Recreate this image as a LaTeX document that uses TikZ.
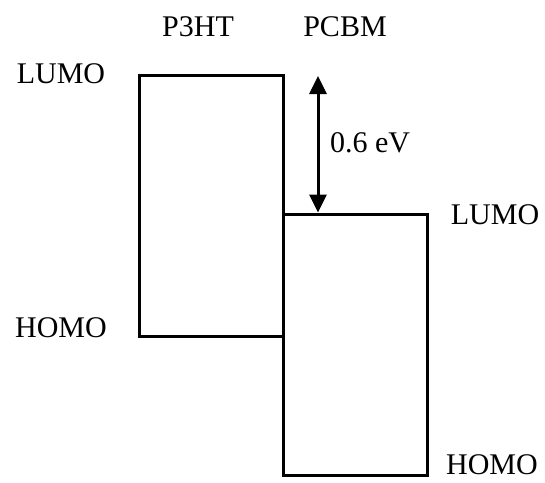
\documentclass[tikz,border=0pt]{standalone}
\usepackage{fontspec}
\setmainfont{Liberation Serif}
\usetikzlibrary{arrows.meta, positioning}

\begin{document}
\begin{tikzpicture}[
    x=1pt, y=-1pt,
    >={Triangle[width=17pt, length=18pt]},
    every node/.style={font=\fontsize{30}{36}\selectfont, inner sep=0pt},
    band/.style={draw, line width=3pt, rectangle, inner sep=0pt, outer sep=0pt,
                 minimum width=144pt, minimum height=261pt},
    gap/.style={<->, line width=3pt},
]
\useasboundingbox (0,0) rectangle (545,482);
% energy levels
\node[band] (p3ht) at (211,205.5) {};
\node[band] (pcbm) at (355,344.5) {};
% material names
\node (p3htname) at (198,27) {P3HT};
\node (pcbmname) at (345,27) {PCBM};
% level labels
\node (p3htlumo) at (61,74)  {LUMO};
\node (p3hthomo) at (61,328) {HOMO};
\node (pcbmlumo) at (495,215) {LUMO};
\node (pcbmhomo) at (492,465) {HOMO};
% offset
\coordinate (gaptop) at (318,76);
\coordinate (gapbot) at (318,212.5);
\draw[gap] (gaptop) -- (gapbot);
\node (offset) at (370,143) {0.6 eV};
\end{tikzpicture}
\end{document}
